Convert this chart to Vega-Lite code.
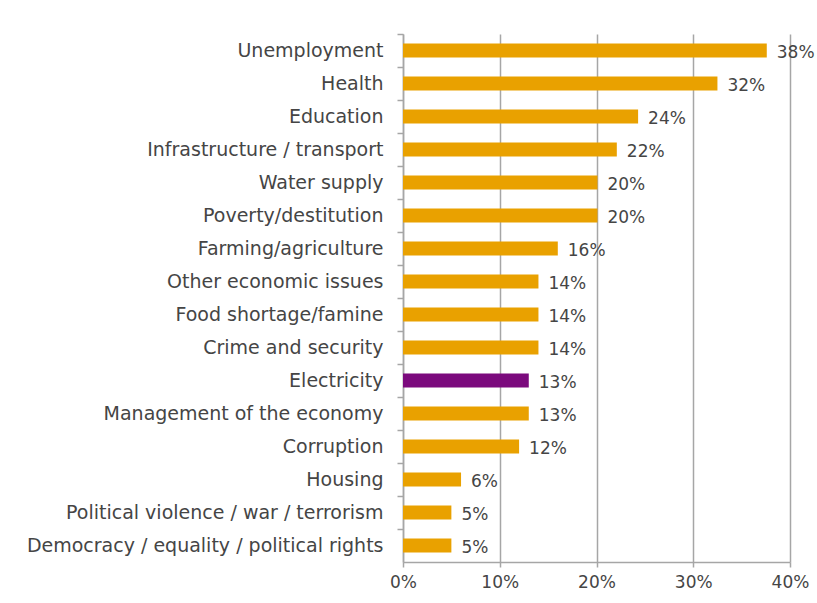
{
  "$schema": "https://vega.github.io/schema/vega-lite/v6.json",
  "width": 387,
  "height": 528,
  "autosize": {"type": "none"},
  "padding": {"left": 403, "top": 34, "right": 27, "bottom": 41},
  "background": "white",
  "config": {
    "view": {"stroke": null},
    "font": "DejaVu Sans",
    "axis": {"labelFont": "DejaVu Sans", "labelColor": "#454545", "domainColor": "#a6a6a6", "tickColor": "#a6a6a6", "gridColor": "#a6a6a6", "domainWidth": 1.5, "gridWidth": 1.5, "tickWidth": 1.5}
  },
  "data": {
    "values": [
      {"issue": "Unemployment", "value": 37.6, "label": "38%"},
      {"issue": "Health", "value": 32.5, "label": "32%"},
      {"issue": "Education", "value": 24.3, "label": "24%"},
      {"issue": "Infrastructure / transport", "value": 22.1, "label": "22%"},
      {"issue": "Water supply", "value": 20.1, "label": "20%"},
      {"issue": "Poverty/destitution", "value": 20.1, "label": "20%"},
      {"issue": "Farming/agriculture", "value": 16.0, "label": "16%"},
      {"issue": "Other economic issues", "value": 14.0, "label": "14%"},
      {"issue": "Food shortage/famine", "value": 14.0, "label": "14%"},
      {"issue": "Crime and security", "value": 14.0, "label": "14%"},
      {"issue": "Electricity", "value": 13.0, "label": "13%"},
      {"issue": "Management of the economy", "value": 13.0, "label": "13%"},
      {"issue": "Corruption", "value": 12.0, "label": "12%"},
      {"issue": "Housing", "value": 6.0, "label": "6%"},
      {"issue": "Political violence / war / terrorism", "value": 5.0, "label": "5%"},
      {"issue": "Democracy / equality / political rights", "value": 5.0, "label": "5%"}
    ]
  },
  "encoding": {
    "y": {
      "field": "issue", "type": "nominal", "sort": null,
      "scale": {"paddingInner": 0, "paddingOuter": 0},
      "axis": {"title": null, "bandPosition": 0, "tickSize": 6, "labelPadding": 14, "grid": false, "labelLimit": 420, "labelFontSize": 19}
    },
    "x": {
      "field": "value", "type": "quantitative",
      "scale": {"domain": [0, 40], "nice": false},
      "axis": {"title": null, "values": [0, 10, 20, 30, 40], "labelExpr": "datum.value + '%'", "labelFlush": false, "tickSize": 5, "labelPadding": 7, "grid": true, "labelFontSize": 17}
    }
  },
  "layer": [
    {
      "mark": {"type": "bar", "size": 14},
      "encoding": {
        "color": {"condition": {"test": "datum.issue === 'Electricity'", "value": "#7B0A7D"}, "value": "#E9A100"}
      }
    },
    {
      "mark": {"type": "text", "align": "left", "baseline": "middle", "dx": 10, "dy": 2, "fontSize": 17, "color": "#454545", "font": "DejaVu Sans"},
      "encoding": {"text": {"field": "label"}}
    }
  ]
}
